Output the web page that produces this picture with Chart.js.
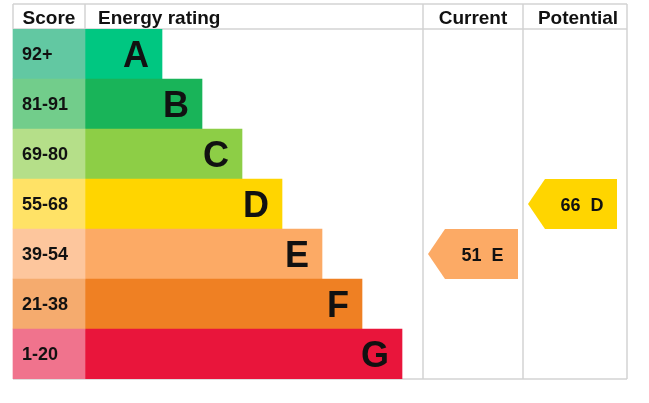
<!DOCTYPE html>
<html>
<head>
<meta charset="utf-8">
<script src="https://cdn.jsdelivr.net/npm/chart.js@4"></script>
<style>
body { margin: 0; background: #fff; }
#epc { display: block; }
</style>
</head>
<body>
<canvas id="epc" width="649" height="403"></canvas>
<script>
// EPC bands, top (best) to bottom
var bands = ['A', 'B', 'C', 'D', 'E', 'F', 'G'];
var scoreRanges = ['92+', '81-91', '69-80', '55-68', '39-54', '21-38', '1-20'];
var bandMin = [92, 81, 69, 55, 39, 21, 1];
var barLength = [77, 117, 157, 197, 237, 277, 317];
var barColors = ['#00c781', '#19b459', '#8dce46', '#ffd500', '#fcaa65', '#ef8023', '#e9153b'];
var scoreColors = ['#62c8a2', '#72cd8b', '#b5df89', '#ffe266', '#fdc69d', '#f5ab6e', '#f0738d'];
var headers = ['Score', 'Energy rating', 'Current', 'Potential'];
var currentScore = 51;
var potentialScore = 66;

// column edges in x-scale units
var colLeft = 13, colScore = 85, colCurrent = 423, colPotential = 523, colRight = 627;
var headerHeight = 25;
var lineColor = '#d3d3d3';

function band_of(score)
{
    for (let i = 0; i < bandMin.length; i++) {
	if (score >= bandMin[i])
	    return i;
    }
    return bandMin.length - 1;
}

function draw_arrow(chart, score, x0, x1)
{
    var ctx = chart.ctx;
    var xs = chart.scales.x, ys = chart.scales.y;
    var idx = band_of(score);
    var yc = ys.getPixelForValue(idx);
    var half = (ys.getPixelForValue(1) - ys.getPixelForValue(0)) / 2;
    var tip = xs.getPixelForValue(x0);
    var body = tip + 17;
    var right = xs.getPixelForValue(x1);

    ctx.fillStyle = barColors[idx];
    ctx.beginPath();
    ctx.moveTo(tip, yc);
    ctx.lineTo(body, yc - half);
    ctx.lineTo(right, yc - half);
    ctx.lineTo(right, yc + half);
    ctx.lineTo(body, yc + half);
    ctx.closePath();
    ctx.fill();

    ctx.fillStyle = '#111';
    ctx.font = 'bold 18px "Liberation Sans", Arial, sans-serif';
    ctx.textAlign = 'center';
    ctx.textBaseline = 'alphabetic';
    ctx.fillText(score + '  ' + bands[idx], (body + right) / 2 + 1, yc + 7);
}

var epcPlugin = {
    id: 'epc',
    beforeDatasetsDraw: function(chart) {
	var ctx = chart.ctx;
	var xs = chart.scales.x;
	var area = chart.chartArea;
	var top = area.top - headerHeight;
	var bottom = area.bottom;
	var xl = xs.getPixelForValue(colLeft);
	var xr = xs.getPixelForValue(colRight);

	ctx.save();
	ctx.strokeStyle = lineColor;
	ctx.lineWidth = 1.5;
	ctx.beginPath();
	ctx.moveTo(xl, top); ctx.lineTo(xr, top);
	ctx.moveTo(xl, area.top); ctx.lineTo(xr, area.top);
	ctx.moveTo(xl, bottom); ctx.lineTo(xr, bottom);
	ctx.moveTo(xl, top); ctx.lineTo(xl, area.top);
	var sx = xs.getPixelForValue(colScore);
	ctx.moveTo(sx, top); ctx.lineTo(sx, area.top);
	[colCurrent, colPotential, colRight].forEach(function(c) {
	    var px = xs.getPixelForValue(c);
	    ctx.moveTo(px, top); ctx.lineTo(px, bottom);
	});
	ctx.stroke();

	ctx.fillStyle = '#111';
	ctx.font = 'bold 19px "Liberation Sans", Arial, sans-serif';
	ctx.textBaseline = 'alphabetic';
	var base = area.top - 5;
	ctx.textAlign = 'center';
	ctx.fillText(headers[0], (xl + sx) / 2, base);
	ctx.textAlign = 'left';
	ctx.fillText(headers[1], sx + 13, base);
	ctx.textAlign = 'center';
	ctx.fillText(headers[2], (xs.getPixelForValue(colCurrent) + xs.getPixelForValue(colPotential)) / 2, base);
	ctx.fillText(headers[3], (xs.getPixelForValue(colPotential) + xr) / 2 + 3, base);
	ctx.restore();
    },
    afterDatasetsDraw: function(chart) {
	var ctx = chart.ctx;
	var scoreMeta = chart.getDatasetMeta(0);
	var barMeta = chart.getDatasetMeta(1);

	ctx.save();
	ctx.fillStyle = '#111';
	ctx.textBaseline = 'alphabetic';

	ctx.font = 'bold 18px "Liberation Sans", Arial, sans-serif';
	ctx.textAlign = 'left';
	$each(scoreMeta.data, function(i, el) {
	    ctx.fillText(scoreRanges[i], el.base + 9, el.y + 6);
	});

	ctx.font = 'bold 36px "Liberation Sans", Arial, sans-serif';
	ctx.textAlign = 'right';
	$each(barMeta.data, function(i, el) {
	    ctx.fillText(bands[i], el.x - 13, el.y + 13);
	});

	draw_arrow(chart, currentScore, colCurrent + 5, colPotential - 5);
	draw_arrow(chart, potentialScore, colPotential + 5, colRight - 10);
	ctx.restore();
    }
};

function $each(arr, fn)
{
    for (let i = 0; i < arr.length; i++)
	fn(i, arr[i]);
}

new Chart(document.getElementById('epc'), {
    type: 'bar',
    data: {
	labels: bands,
	datasets: [{
	    label: 'Score',
	    data: bands.map(function(b, i) { return [colLeft, colScore]; }),
	    backgroundColor: scoreColors,
	    grouped: false,
	    barPercentage: 1,
	    categoryPercentage: 1
	}, {
	    label: 'Energy rating',
	    data: barLength.map(function(v) { return [colScore, colScore + v]; }),
	    backgroundColor: barColors,
	    grouped: false,
	    barPercentage: 1,
	    categoryPercentage: 1
	}]
    },
    options: {
	indexAxis: 'y',
	responsive: false,
	animation: false,
	layout: { padding: { top: 29, bottom: 24, left: 0, right: 0 } },
	scales: {
	    x: { type: 'linear', min: 0, max: 649, display: false },
	    y: { display: false }
	},
	plugins: {
	    legend: { display: false },
	    tooltip: { enabled: false }
	}
    },
    plugins: [epcPlugin]
});
</script>
</body>
</html>
